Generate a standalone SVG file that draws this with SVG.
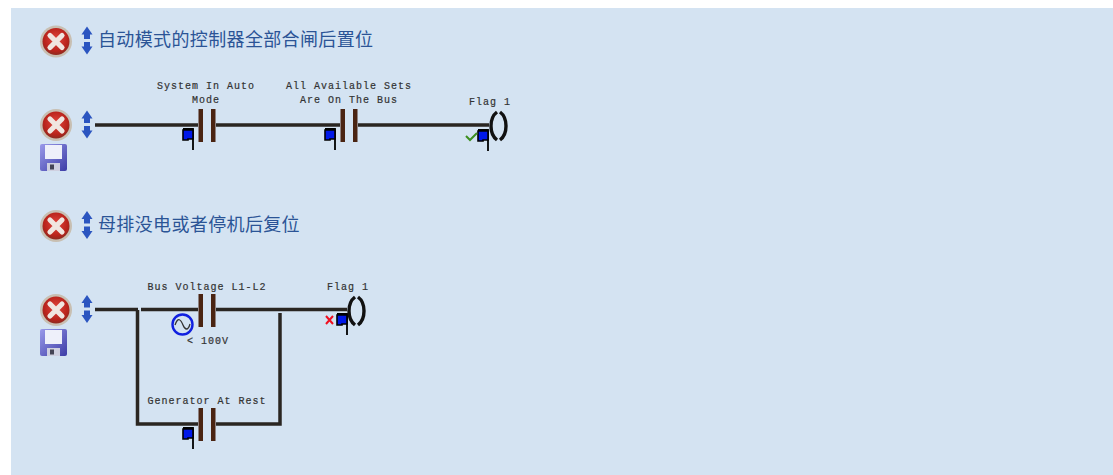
<svg xmlns="http://www.w3.org/2000/svg" width="1113" height="475" viewBox="0 0 1113 475">
<style>
.head{font-family:"Noto Sans CJK SC","Liberation Sans",sans-serif;font-size:18px;letter-spacing:.36px;fill:#2b5496}
.lab{font-family:"Liberation Mono","DejaVu Sans Mono",monospace;font-size:10px;letter-spacing:1px;fill:#333;stroke:#333;stroke-width:.2;text-anchor:middle}
.wire{fill:none;stroke:#2a2622;stroke-width:3.500}
.bar{fill:#4a2412}
.coil{fill:none;stroke:#111;stroke-width:3.400}
</style>
<defs>
<radialGradient id="rg" cx=".5" cy=".42" r=".55"><stop offset="0" stop-color="#e2463c"/><stop offset=".8" stop-color="#b8231b"/><stop offset="1" stop-color="#952a20"/></radialGradient>
<linearGradient id="fg" x1="0" y1="0" x2="1" y2="1"><stop offset="0" stop-color="#9a9aea"/><stop offset="1" stop-color="#3c3ca6"/></linearGradient>
<g id="del"><circle r="16" fill="#c8bfb2"/><circle r="13.500" fill="url(#rg)"/><path d="M-6-6 6 6M6-6-6 6" stroke="#f0e6e0" stroke-width="5.200" stroke-linecap="round"/></g>
<g id="mv" fill="#2b55c0"><path d="M0-14 5.500-6H3V-1.500H-3V-6H-5.500Z"/><path d="M0 14 5.500 6H3V1.500H-3V6H-5.500Z"/></g>
<g id="sv"><rect width="27" height="27" rx="2" fill="url(#fg)"/><rect x="5" y="1" width="17" height="14" fill="#eef0fa"/><rect x="7" y="19" width="13" height="8" fill="#cfd0e0"/><rect x="10" y="20.500" width="4" height="5" fill="#445"/></g>
<g id="flag"><path d="M0 0H10V21" fill="none" stroke="#000" stroke-width="1.800"/><path d="M0 1H10V10H5V11H0Z" fill="#0018e8" stroke="#000" stroke-width="1.600"/></g>
<g id="contact"><rect x="-8.500" y="-16" width="4.500" height="33" class="bar"/><rect x="4" y="-16" width="4.500" height="33" class="bar"/></g>
<g id="coilg"><path class="coil" d="M8-14C0-8 0 8 8 14M11-14C19-8 19 8 11 14"/></g>
</defs>
<rect x="11" y="8" width="1102" height="467" fill="#d4e3f2"/>
<g id="connectors">
<path class="wire" d="M95 125H198M216 125H340M358 125H489"/>
<path class="wire" d="M95 309.500H138M141 309.500H198M216 309.500H347"/>
<path class="wire" d="M137.500 310V424H198M216 424H280V313"/>
</g>
<g id="rung1-title"><use href="#del" x="56" y="41.500"/><use href="#mv" x="87" y="40.500"/><text class="head" x="98" y="46">自动模式的控制器全部合闸后置位</text></g>
<g id="rung1-controls"><use href="#del" x="56" y="125"/><use href="#mv" x="87" y="124.500"/><use href="#sv" x="40" y="144"/></g>
<g id="system-in-auto"><use href="#contact" x="207" y="125"/><use href="#flag" x="183" y="129"/><text class="lab" x="206" y="89">System In Auto</text><text class="lab" x="206" y="103">Mode</text></g>
<g id="all-available"><use href="#contact" x="349" y="125"/><use href="#flag" x="325" y="129"/><text class="lab" x="349" y="89">All Available Sets</text><text class="lab" x="349" y="103">Are On The Bus</text></g>
<g id="flag1-a"><use href="#coilg" x="489" y="126"/><use href="#flag" x="478" y="130"/><path d="M466 136 470 140 477 133" fill="none" stroke="#3d8f1f" stroke-width="2"/><text class="lab" x="490" y="105">Flag 1</text></g>
<g id="rung2-title"><use href="#del" x="56" y="226"/><use href="#mv" x="87" y="225"/><text class="head" x="98" y="231">母排没电或者停机后复位</text></g>
<g id="rung2-controls"><use href="#del" x="56" y="310"/><use href="#mv" x="87" y="309"/><use href="#sv" x="40" y="329"/></g>
<g id="bus-voltage"><use href="#contact" x="207" y="310"/><circle cx="182.500" cy="324.500" r="10" fill="none" stroke="#1020e0" stroke-width="2.400"/><path d="M175 325C178 316 181 320 183 325S188 331 190 324" fill="none" stroke="#333" stroke-width="1.300"/><text class="lab" x="207" y="290">Bus Voltage L1-L2</text><text class="lab" x="208" y="344">&lt; 100V</text></g>
<g id="flag1-b"><use href="#coilg" x="347" y="311"/><use href="#flag" x="337" y="314"/><path d="M326 316 333 324M333 316 326 324" stroke="#f01020" stroke-width="2"/><text class="lab" x="348" y="290">Flag 1</text></g>
<g id="generator-at-rest"><use href="#contact" x="207" y="424"/><use href="#flag" x="183" y="428"/><text class="lab" x="207" y="404">Generator At Rest</text></g>
</svg>
